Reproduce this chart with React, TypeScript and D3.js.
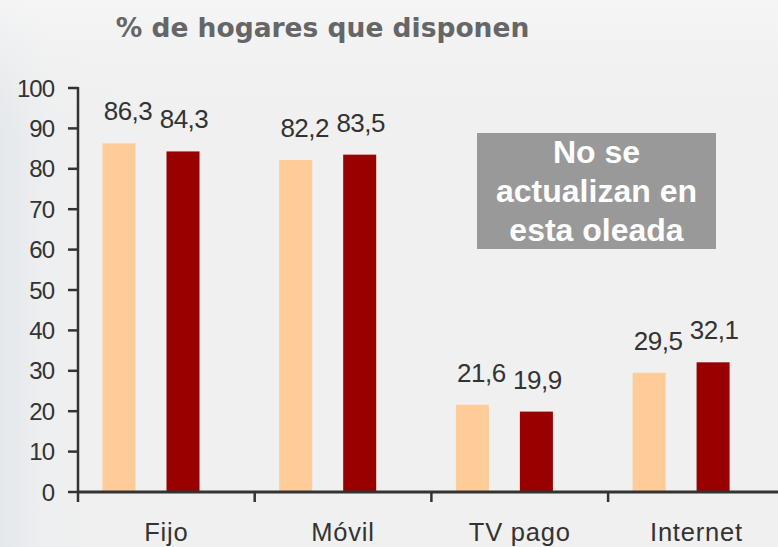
import React from "react";
import * as d3 from "d3";

const categories = ["Fijo", "Móvil", "TV pago", "Internet"];
const seriesNames = ["Oleada anterior", "Oleada actual"];
const serieA = [86.3, 82.2, 21.6, 29.5];
const serieB = [84.3, 83.5, 19.9, 32.1];
const labelsA = ["86,3", "82,2", "21,6", "29,5"];
const labelsB = ["84,3", "83,5", "19,9", "32,1"];
const yTicks = [0, 10, 20, 30, 40, 50, 60, 70, 80, 90, 100];
const title = "% de hogares que disponen";
const noteLines = ["No se", "actualizan en", "esta oleada"];

const W = 778;
const H = 547;
const colors = ["#FFCC99", "#990000"];

export default function App() {
  const x0 = 78;
  const step = 176.7;
  const xCat = d3
    .scaleBand<string>()
    .domain(categories)
    .range([x0, x0 + step * categories.length])
    .padding(0);
  const xSer = d3
    .scaleBand<string>()
    .domain(seriesNames)
    .range([24.5, 121.5])
    .paddingInner(0.484)
    .paddingOuter(0);
  const y = d3.scaleLinear().domain([0, 100]).range([492, 88]);
  const series = [serieA, serieB];
  const labels = [labelsA, labelsB];
  const labelDx = [9, 1];
  const font = "'Liberation Sans', Arial, sans-serif";
  const textColor = "#333333";

  return (
    <svg
      width={W}
      height={H}
      style={{ position: "absolute", left: 0, top: 0 }}
      xmlns="http://www.w3.org/2000/svg"
    >
      <defs>
        <linearGradient id="bgL" x1="0" y1="0" x2="1" y2="0">
          <stop offset="0" stopColor="#e4e8ec" />
          <stop offset="0.06" stopColor="#eeeff0" />
          <stop offset="0.15" stopColor="#f0f0f0" />
          <stop offset="1" stopColor="#f0f0f0" />
        </linearGradient>
        <linearGradient id="bgT" x1="0" y1="0" x2="0" y2="1">
          <stop offset="0" stopColor="#f6f6f6" stopOpacity="0.9" />
          <stop offset="0.25" stopColor="#f0f0f0" stopOpacity="0" />
        </linearGradient>
      </defs>
      <rect x={0} y={0} width={W} height={H} fill="url(#bgL)" />
      <rect x={0} y={0} width={W} height={H} fill="url(#bgT)" />

      {/* title */}
      <text
        x={322.5}
        y={37}
        textAnchor="middle"
        fontFamily="'DejaVu Sans', Verdana, sans-serif"
        fontWeight="bold"
        fontSize={26.5}
        fill="#666666"
      >
        {title}
      </text>

      {/* bars */}
      {categories.map((c, i) =>
        series.map((s, j) => {
          const bx = (xCat(c) as number) + (xSer(seriesNames[j]) as number);
          return (
            <rect
              key={c + j}
              x={bx}
              y={y(s[i])}
              width={xSer.bandwidth()}
              height={y(0) - y(s[i])}
              fill={colors[j]}
            />
          );
        })
      )}

      {/* data labels */}
      {categories.map((c, i) =>
        series.map((s, j) => {
          const cx =
            (xCat(c) as number) +
            (xSer(seriesNames[j]) as number) +
            xSer.bandwidth() / 2 +
            labelDx[j];
          return (
            <text
              key={"l" + c + j}
              x={cx}
              y={y(s[i]) - 23}
              textAnchor="middle"
              fontFamily={font}
              fontSize={26}
              fill={textColor}
              letterSpacing={-0.5}
            >
              {labels[j][i]}
            </text>
          );
        })
      )}

      {/* y axis */}
      <line x1={78} x2={78} y1={y(100) - 1} y2={y(0)} stroke="#333" strokeWidth={2.5} />
      {yTicks.map((t) => (
        <g key={"t" + t}>
          <line x1={68} x2={78} y1={y(t)} y2={y(t)} stroke="#333" strokeWidth={2.5} />
          <text
            x={54}
            y={y(t) + 8.5}
            textAnchor="end"
            fontFamily={font}
            fontSize={24}
            fill={textColor}
            letterSpacing={-1}
          >
            {t}
          </text>
        </g>
      ))}

      {/* x axis */}
      <line x1={77} x2={W} y1={y(0)} y2={y(0)} stroke="#333" strokeWidth={3} />
      {categories.map((c) => (
        <line
          key={"xt" + c}
          x1={xCat(c) as number}
          x2={xCat(c) as number}
          y1={y(0)}
          y2={y(0) + 10}
          stroke="#333"
          strokeWidth={2.5}
        />
      ))}
      {categories.map((c) => (
        <text
          key={"xl" + c}
          x={(xCat(c) as number) + xCat.bandwidth() / 2}
          y={541}
          textAnchor="middle"
          fontFamily={font}
          fontSize={25.5}
          fill={textColor}
          letterSpacing={0.8}
        >
          {c}
        </text>
      ))}

      {/* note box */}
      <rect x={477} y={133} width={239} height={116} fill="#999999" />
      {noteLines.map((l, i) => (
        <text
          key={"n" + i}
          x={596.5}
          y={163 + i * 39}
          textAnchor="middle"
          fontFamily={font}
          fontWeight="bold"
          fontSize={32}
          fill="#ffffff"
        >
          {l}
        </text>
      ))}
    </svg>
  );
}
